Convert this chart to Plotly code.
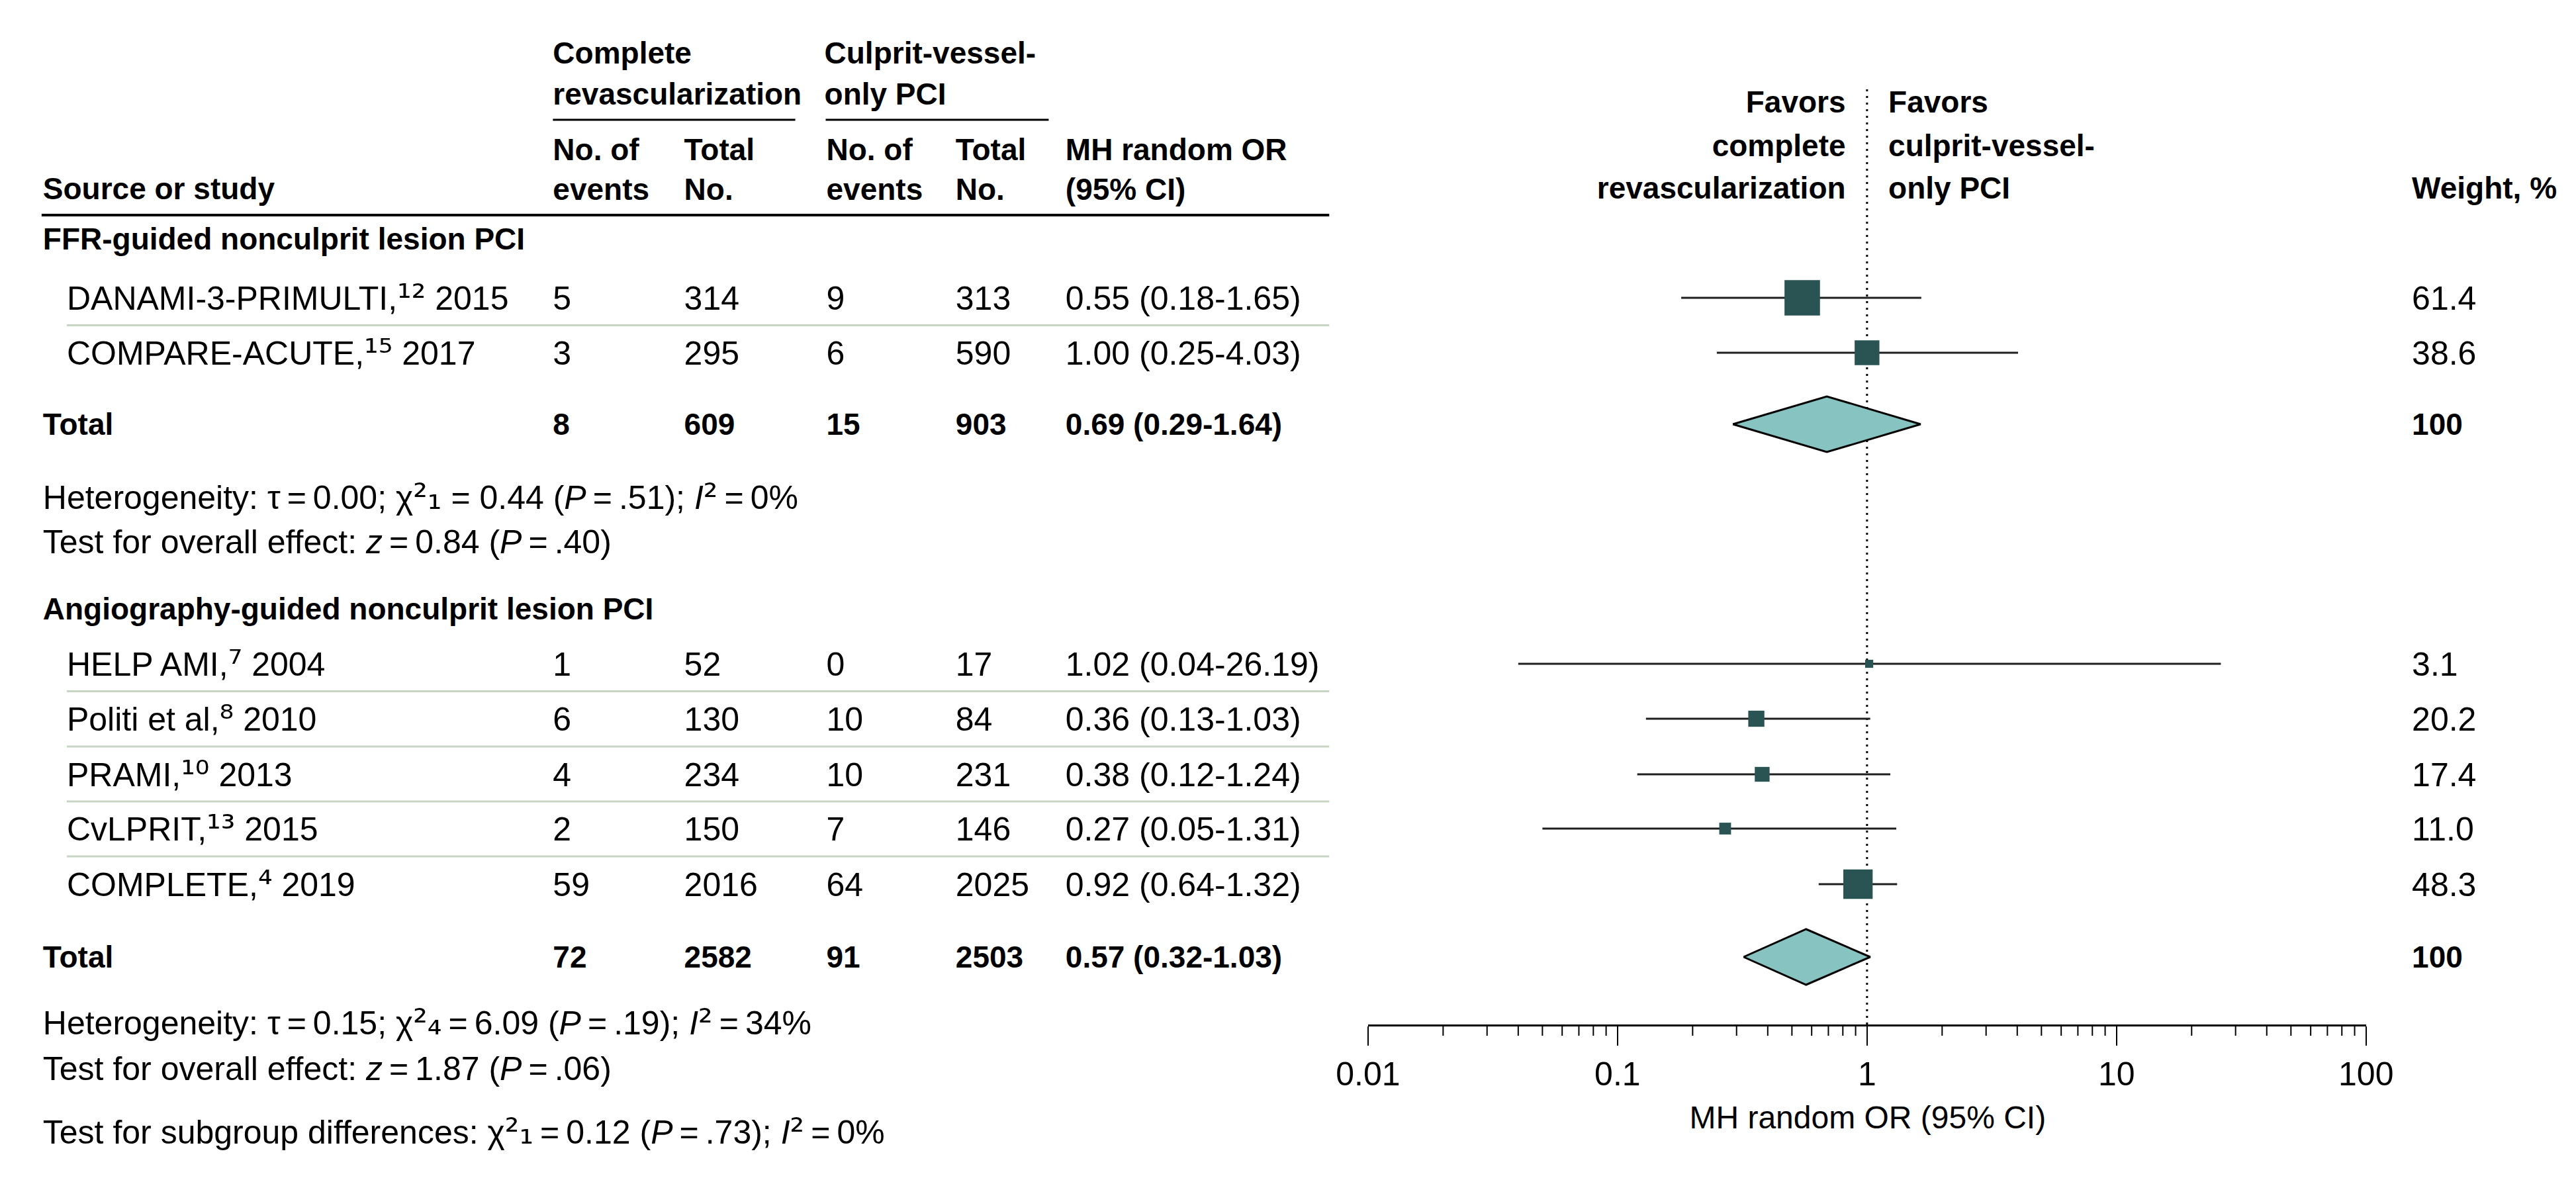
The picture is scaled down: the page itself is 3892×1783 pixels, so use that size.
import plotly.graph_objects as go

W, H = 3892, 1783

SUP = str.maketrans("0123456789", "⁰¹²³⁴⁵⁶⁷⁸⁹")
SUB = str.maketrans("0123456789", "₀₁₂₃₄₅₆₇₈₉")


def sup(s):
    return f'<span style="font-family:DejaVu Sans;font-size:54px">{s.translate(SUP)}</span>'


def sub(s):
    return f'<span style="font-family:DejaVu Sans;font-size:54px">{s.translate(SUB)}</span>'


# ---------------- data ----------------
studies = ["DANAMI-3-PRIMULTI", "COMPARE-ACUTE", "HELP AMI", "Politi et al", "PRAMI", "CvLPRIT", "COMPLETE"]
refs = ["12", "15", "7", "8", "10", "13", "4"]
years = ["2015", "2017", "2004", "2010", "2013", "2015", "2019"]
group_of_study = [0, 0, 1, 1, 1, 1, 1]
cr_events = [5, 3, 1, 6, 4, 2, 59]
cr_total = [314, 295, 52, 130, 234, 150, 2016]
cv_events = [9, 6, 0, 10, 10, 7, 64]
cv_total = [313, 590, 17, 84, 231, 146, 2025]
odds = [0.55, 1.00, 1.02, 0.36, 0.38, 0.27, 0.92]
ci_lo = [0.18, 0.25, 0.04, 0.13, 0.12, 0.05, 0.64]
ci_hi = [1.65, 4.03, 26.19, 1.03, 1.24, 1.31, 1.32]
weights = [61.4, 38.6, 3.1, 20.2, 17.4, 11.0, 48.3]

groups = ["FFR-guided nonculprit lesion PCI", "Angiography-guided nonculprit lesion PCI"]
tot_cr_events = [8, 72]
tot_cr_total = [609, 2582]
tot_cv_events = [15, 91]
tot_cv_total = [903, 2503]
tot_or = [0.69, 0.57]
tot_lo = [0.29, 0.32]
tot_hi = [1.64, 1.03]
tot_weight = [100, 100]

TS = "\u2009"
het_text = [
    f"Heterogeneity: τ{TS}={TS}0.00; χ{sup('2')}{sub('1')} = 0.44 (<i>P</i>{TS}={TS}.51); <i>I</i>{sup('2')}{TS}={TS}0%",
    f"Heterogeneity: τ{TS}={TS}0.15; χ{sup('2')}{sub('4')}{TS}={TS}6.09 (<i>P</i>{TS}={TS}.19); <i>I</i>{sup('2')}{TS}={TS}34%",
]
test_text = [
    f"Test for overall effect: <i>z</i>{TS}={TS}0.84 (<i>P</i>{TS}={TS}.40)",
    f"Test for overall effect: <i>z</i>{TS}={TS}1.87 (<i>P</i>{TS}={TS}.06)",
]
subgroup_text = (f"Test for subgroup differences: χ{sup('2')}{sub('1')}{TS}={TS}0.12 "
                 f"(<i>P</i>{TS}={TS}.73); <i>I</i>{sup('2')}{TS}={TS}0%")

tick_vals = [0.01, 0.1, 1, 10, 100]
tick_labels = ["0.01", "0.1", "1", "10", "100"]
axis_title = "MH random OR (95% CI)"

# ---------------- layout constants (pixels) ----------------
FONT = "Liberation Sans, Arial, Helvetica, sans-serif"
REG = 50
BOLD = 46
SQ_COLOR = "#2A5353"
DIA_COLOR = "#87C3C1"
SEP_COLOR = "#C8D5C4"

study_y = [442, 525, 995, 1078, 1162, 1244, 1328]
header_y = [353, 912]
total_y = [633, 1438]
het_y = [743, 1537]
test_y = [810, 1606]
subgroup_y = 1702
AXIS_Y = 1540
MINOR_LEN = 17
col_x = [797, 1000, 1220, 1420, 1590]
WEIGHT_X = 3673
LEFT_X = 8
INDENT_X = 45
RULE_END = 1998

# text items drawn as a text trace on a full-figure pixel axis pair
tx, ty, tt, tpos, tsize = [], [], [], [], []
POS = {"left": "middle right", "right": "middle left", "center": "middle center"}


def txt(x, y, s, bold=False, anchor="left", size=None):
    sz = size or (BOLD if bold else REG)
    tx.append(x)
    ty.append(y + 0.1 * sz)  # cap centre sits on y
    tt.append(f"<b>{s}</b>" if bold else s)
    tpos.append(POS[anchor])
    tsize.append(sz)


shapes = []


def hline(x0, x1, y, color="black", width=3):
    shapes.append(dict(type="line", xref="paper", yref="paper", x0=x0 / W, x1=x1 / W,
                       y0=1 - y / H, y1=1 - y / H, line=dict(color=color, width=width)))


# ---------------- header ----------------
txt(797, 72, "Complete", bold=True)
txt(797, 134, "revascularization", bold=True)
hline(797, 1172, 173, width=3)
txt(1217, 72, "Culprit-vessel-", bold=True)
txt(1217, 134, "only PCI", bold=True)
hline(1219, 1564, 173, width=3)
txt(LEFT_X, 277, "Source or study", bold=True)
for cx, l1, l2 in [(col_x[0], "No. of", "events"), (col_x[1], "Total", "No."),
                   (col_x[2], "No. of", "events"), (col_x[3], "Total", "No."),
                   (col_x[4], "MH random OR", "(95% CI)")]:
    txt(cx, 218, l1, bold=True)
    txt(cx, 278, l2, bold=True)
hline(6, RULE_END, 317, width=4)

txt(2797, 146, "Favors", bold=True, anchor="right")
txt(2797, 212, "complete", bold=True, anchor="right")
txt(2797, 276, "revascularization", bold=True, anchor="right")
txt(2863, 146, "Favors", bold=True)
txt(2863, 212, "culprit-vessel-", bold=True)
txt(2863, 276, "only PCI", bold=True)
txt(WEIGHT_X, 276, "Weight, %", bold=True)

# ---------------- table body ----------------
for g in range(2):
    txt(LEFT_X, header_y[g], groups[g], bold=True)
    idx = [i for i in range(len(studies)) if group_of_study[i] == g]
    for k, i in enumerate(idx):
        y = study_y[i]
        txt(INDENT_X, y, f"{studies[i]},{sup(refs[i])} {years[i]}")
        vals = [str(cr_events[i]), str(cr_total[i]), str(cv_events[i]), str(cv_total[i]),
                f"{odds[i]:.2f} ({ci_lo[i]:.2f}-{ci_hi[i]:.2f})"]
        for cx, v in zip(col_x, vals):
            txt(cx, y, v)
        txt(WEIGHT_X, y, f"{weights[i]:.1f}")
        if k < len(idx) - 1:
            hline(INDENT_X, RULE_END, (y + study_y[idx[k + 1]]) / 2, color=SEP_COLOR, width=3)
    y = total_y[g]
    txt(LEFT_X, y, "Total", bold=True)
    vals = [str(tot_cr_events[g]), str(tot_cr_total[g]), str(tot_cv_events[g]), str(tot_cv_total[g]),
            f"{tot_or[g]:.2f} ({tot_lo[g]:.2f}-{tot_hi[g]:.2f})"]
    for cx, v in zip(col_x, vals):
        txt(cx, y, v, bold=True)
    txt(WEIGHT_X, y, str(tot_weight[g]), bold=True)
    txt(LEFT_X, het_y[g], het_text[g])
    txt(LEFT_X, test_y[g], test_text[g])
txt(LEFT_X, subgroup_y, subgroup_text)
txt(2831, 1680, axis_title, anchor="center", size=48)

# ---------------- forest plot ----------------
fig = go.Figure()
for i in range(len(studies)):
    fig.add_trace(go.Scatter(x=[ci_lo[i], ci_hi[i]], y=[study_y[i], study_y[i]], mode="lines",
                             line=dict(color="#1E1E1E", width=3), hoverinfo="skip"))
fig.add_trace(go.Scatter(
    x=odds, y=study_y, mode="markers",
    marker=dict(symbol="square", size=[10 + 0.71 * w for w in weights], color=SQ_COLOR,
                opacity=1, line=dict(width=0)),
    hoverinfo="skip"))
for g in range(2):
    y = total_y[g]
    h = 42
    fig.add_trace(go.Scatter(
        x=[tot_lo[g], tot_or[g], tot_hi[g], tot_or[g], tot_lo[g]],
        y=[y, y - h, y, y + h, y], mode="lines", fill="toself", fillcolor=DIA_COLOR,
        line=dict(color="black", width=3), hoverinfo="skip"))

# all table text
fig.add_trace(go.Scatter(
    x=tx, y=ty, text=tt, mode="text", textposition=tpos,
    textfont=dict(family=FONT, size=tsize, color="black"),
    xaxis="x2", yaxis="y2", cliponaxis=False, hoverinfo="skip"))

# reference line at OR = 1
shapes.append(dict(type="line", xref="x", yref="y", x0=1, x1=1, y0=127, y1=AXIS_Y, layer="below",
                   line=dict(color="black", width=3, dash="3px,7px")))

# minor ticks of the log axis (2..9 in each decade), placed via the x axis scale
minor_vals = [k * 10 ** e for e in range(-2, 2) for k in range(2, 10)]
for v in minor_vals:
    shapes.append(dict(type="line", xref="x", yref="paper", x0=v, x1=v,
                       y0=1 - AXIS_Y / H, y1=1 - (AXIS_Y + MINOR_LEN) / H,
                       line=dict(color="black", width=2)))

fig.update_layout(
    width=W, height=H, margin=dict(l=0, r=0, t=0, b=0),
    paper_bgcolor="white", plot_bgcolor="rgba(0,0,0,0)", showlegend=False,
    xaxis=dict(type="log", range=[-2, 2], domain=[2058 / W, 3602 / W], anchor="y",
               showline=True, linecolor="black", linewidth=3, showgrid=False, zeroline=False,
               ticks="outside", ticklen=29, tickwidth=2, tickcolor="black",
               tickmode="array", tickvals=tick_vals, ticktext=tick_labels,
               tickfont=dict(family=FONT, size=REG, color="black"),
               fixedrange=True),
    yaxis=dict(range=[AXIS_Y, 0], domain=[1 - AXIS_Y / H, 1], visible=False, fixedrange=True),
    xaxis2=dict(range=[0, W], domain=[0, 1], anchor="y2", visible=False, fixedrange=True),
    yaxis2=dict(range=[H, 0], domain=[0, 1], anchor="x2", visible=False, fixedrange=True),
    shapes=shapes,
)

fig.write_html("out.html")
